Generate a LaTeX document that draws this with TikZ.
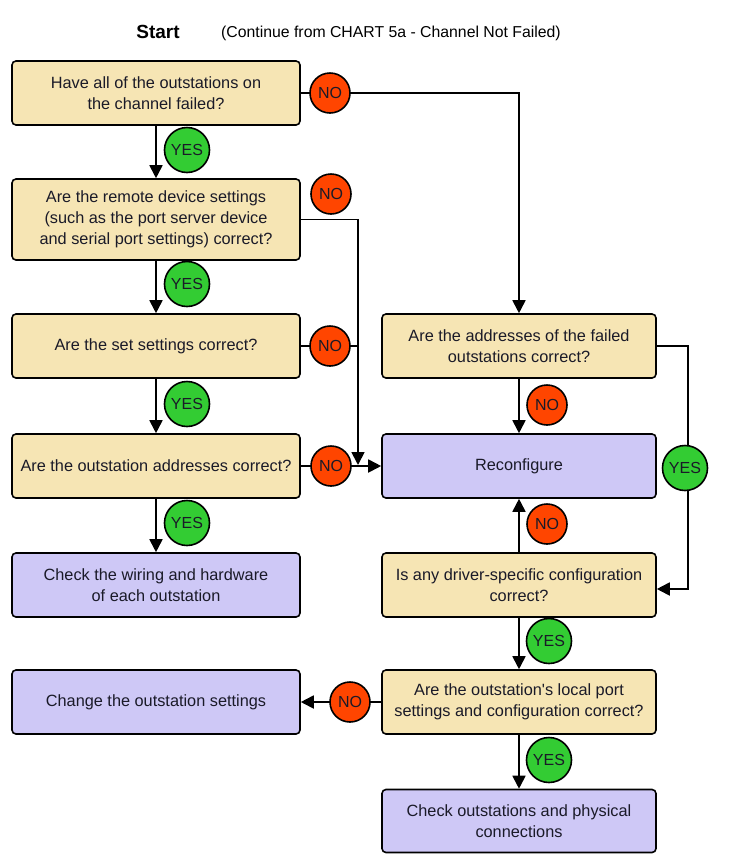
\documentclass[tikz,border=0pt]{standalone}
\usepackage{fontspec}
\setmainfont{Liberation Sans}
\usetikzlibrary{arrows.meta}
\definecolor{tanfill}{HTML}{F6E5B4}
\definecolor{purfill}{HTML}{CEC8F6}
\definecolor{nored}{HTML}{FF4500}
\definecolor{yesgreen}{HTML}{33CC33}
\definecolor{txt}{HTML}{1A1A28}
\tikzset{
  box/.style={draw, line width=1.6pt, rounded corners=4pt, align=center, text=txt,
    font=\fontsize{16.3}{21}\selectfont, inner sep=0pt},
  qbox/.style={box, fill=tanfill},
  abox/.style={box, fill=purfill},
  nobub/.style={circle, draw, line width=1.6pt, fill=nored, minimum size=40pt, inner sep=0pt,
    text=txt, font=\fontsize{16}{16}\selectfont},
  yesbub/.style={circle, draw, line width=1.6pt, fill=yesgreen, minimum size=45pt, inner sep=0pt,
    text=txt, font=\fontsize{16}{16}\selectfont},
  arr/.style={line width=1.8pt, -{Triangle[length=13pt,width=13pt]}},
  ln/.style={line width=1.8pt}
}
\begin{document}
\begin{tikzpicture}[x=1pt,y=-1pt]
\useasboundingbox (0,0) rectangle (740,863);
% titles
\node[font=\bfseries\fontsize{19}{19}\selectfont, text=black] (start) at (158,32) {Start};
\node[font=\fontsize{15.8}{15.8}\selectfont, text=black] (cont) at (391,33) {(Continue from CHART 5a - Channel Not Failed)};
% left column
\node[qbox, minimum width=288pt, minimum height=64pt] (A) at (156,93) {Have all of the outstations on\\the channel failed?};
\node[qbox, minimum width=288pt, minimum height=81pt] (B) at (156,219.5) {Are the remote device settings\\(such as the port server device\\and serial port settings) correct?};
\node[qbox, minimum width=288pt, minimum height=64pt] (C) at (156,346) {Are the set settings correct?};
\node[qbox, minimum width=288pt, minimum height=64pt] (D) at (156,466) {Are the outstation addresses correct?};
\node[abox, minimum width=288pt, minimum height=64pt] (E) at (156,585) {Check the wiring and hardware\\of each outstation};
\node[abox, minimum width=288pt, minimum height=64pt] (F) at (156,702) {Change the outstation settings};
% right column
\node[qbox, minimum width=274pt, minimum height=64pt] (G) at (519,346) {Are the addresses of the failed\\outstations correct?};
\node[abox, minimum width=274pt, minimum height=64pt] (H) at (519,466) {Reconfigure};
\node[qbox, minimum width=274pt, minimum height=64pt] (I) at (519,585) {Is any driver-specific configuration\\correct?};
\node[qbox, minimum width=274pt, minimum height=64pt] (J) at (519,702) {Are the outstation\textquotesingle s local port\\settings and configuration correct?};
\node[abox, minimum width=274pt, minimum height=63pt] (K) at (519,821) {Check outstations and physical\\connections};
% helper coordinates
\coordinate (jB) at (358,465);
\coordinate (gR) at (688,346);
\coordinate (gI) at (688,589);
% connectors
\draw[arr] (A.south) -- (B.north);
\draw[arr] (B.south) -- (C.north);
\draw[arr] (C.south) -- (D.north);
\draw[arr] (D.south) -- (E.north);
\draw[arr] (A.east) -| (G.north);
\draw[arr] (B.east) -| (jB);
\draw[ln] (C.east) -- (C.east -| jB);
\draw[arr] (D.east) -- (H.west);
\draw[arr] (G.south) -- (H.north);
\draw[arr] (G.east) -- (gR) -- (gI) -- (I.east |- gI);
\draw[arr] (I.north) -- (H.south);
\draw[arr] (I.south) -- (J.north);
\draw[arr] (J.west) -- (F.east);
\draw[arr] (J.south) -- (K.north);
% bubbles
\node[nobub] (n1) at (330,93) {NO};
\node[yesbub] (y1) at (187,150) {YES};
\node[nobub] (n2) at (331,194) {NO};
\node[yesbub] (y2) at (187,284) {YES};
\node[nobub] (n3) at (330,346) {NO};
\node[yesbub] (y3) at (187,404) {YES};
\node[nobub] (n4) at (331,466) {NO};
\node[yesbub] (y4) at (187,523) {YES};
\node[nobub] (n5) at (547,405) {NO};
\node[yesbub] (y5) at (685,468) {YES};
\node[nobub] (n6) at (547,524) {NO};
\node[yesbub] (y6) at (549,641) {YES};
\node[nobub] (n7) at (350,702) {NO};
\node[yesbub] (y7) at (549,760) {YES};
\end{tikzpicture}
\end{document}
